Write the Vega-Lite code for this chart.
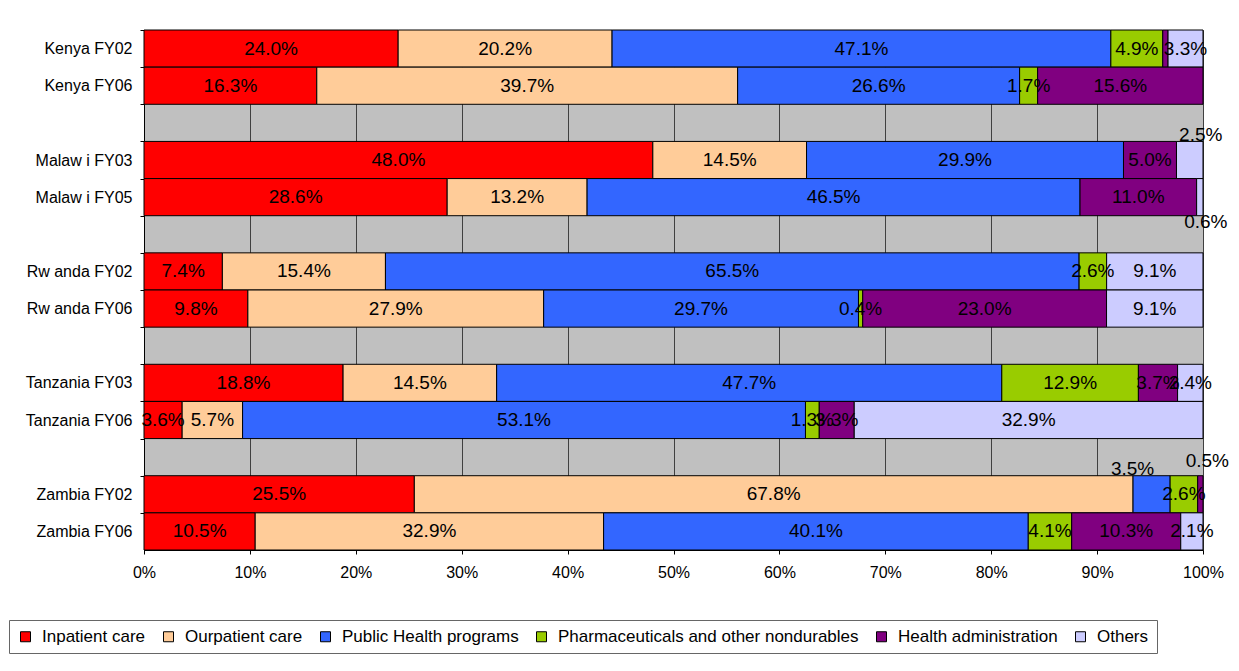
{
  "$schema": "https://vega.github.io/schema/vega-lite/v6.json",
  "autosize": {"type": "none"},
  "padding": {"left": 144, "top": 30, "right": 36, "bottom": 121},
  "width": 1059,
  "height": 520,
  "background": "white",
  "config": {
    "font": "Liberation Sans",
    "view": {"fill": "#C0C0C0", "stroke": "#808080", "strokeWidth": 1}
  },
  "data": {
    "values": [
      {"country": "Kenya FY02", "category": "Inpatient care", "share": 0.240},
      {"country": "Kenya FY02", "category": "Ourpatient care", "share": 0.202},
      {"country": "Kenya FY02", "category": "Public Health programs", "share": 0.471},
      {"country": "Kenya FY02", "category": "Pharmaceuticals and other nondurables", "share": 0.049},
      {"country": "Kenya FY02", "category": "Health administration", "share": 0.005},
      {"country": "Kenya FY02", "category": "Others", "share": 0.033},
      {"country": "Kenya FY06", "category": "Inpatient care", "share": 0.163},
      {"country": "Kenya FY06", "category": "Ourpatient care", "share": 0.397},
      {"country": "Kenya FY06", "category": "Public Health programs", "share": 0.266},
      {"country": "Kenya FY06", "category": "Pharmaceuticals and other nondurables", "share": 0.017},
      {"country": "Kenya FY06", "category": "Health administration", "share": 0.156},
      {"country": "Malaw i FY03", "category": "Inpatient care", "share": 0.480},
      {"country": "Malaw i FY03", "category": "Ourpatient care", "share": 0.145},
      {"country": "Malaw i FY03", "category": "Public Health programs", "share": 0.299},
      {"country": "Malaw i FY03", "category": "Health administration", "share": 0.050},
      {"country": "Malaw i FY03", "category": "Others", "share": 0.025},
      {"country": "Malaw i FY05", "category": "Inpatient care", "share": 0.286},
      {"country": "Malaw i FY05", "category": "Ourpatient care", "share": 0.132},
      {"country": "Malaw i FY05", "category": "Public Health programs", "share": 0.465},
      {"country": "Malaw i FY05", "category": "Health administration", "share": 0.110},
      {"country": "Malaw i FY05", "category": "Others", "share": 0.006},
      {"country": "Rw anda FY02", "category": "Inpatient care", "share": 0.074},
      {"country": "Rw anda FY02", "category": "Ourpatient care", "share": 0.154},
      {"country": "Rw anda FY02", "category": "Public Health programs", "share": 0.655},
      {"country": "Rw anda FY02", "category": "Pharmaceuticals and other nondurables", "share": 0.026},
      {"country": "Rw anda FY02", "category": "Others", "share": 0.091},
      {"country": "Rw anda FY06", "category": "Inpatient care", "share": 0.098},
      {"country": "Rw anda FY06", "category": "Ourpatient care", "share": 0.279},
      {"country": "Rw anda FY06", "category": "Public Health programs", "share": 0.297},
      {"country": "Rw anda FY06", "category": "Pharmaceuticals and other nondurables", "share": 0.004},
      {"country": "Rw anda FY06", "category": "Health administration", "share": 0.230},
      {"country": "Rw anda FY06", "category": "Others", "share": 0.091},
      {"country": "Tanzania FY03", "category": "Inpatient care", "share": 0.188},
      {"country": "Tanzania FY03", "category": "Ourpatient care", "share": 0.145},
      {"country": "Tanzania FY03", "category": "Public Health programs", "share": 0.477},
      {"country": "Tanzania FY03", "category": "Pharmaceuticals and other nondurables", "share": 0.129},
      {"country": "Tanzania FY03", "category": "Health administration", "share": 0.037},
      {"country": "Tanzania FY03", "category": "Others", "share": 0.024},
      {"country": "Tanzania FY06", "category": "Inpatient care", "share": 0.036},
      {"country": "Tanzania FY06", "category": "Ourpatient care", "share": 0.057},
      {"country": "Tanzania FY06", "category": "Public Health programs", "share": 0.531},
      {"country": "Tanzania FY06", "category": "Pharmaceuticals and other nondurables", "share": 0.013},
      {"country": "Tanzania FY06", "category": "Health administration", "share": 0.033},
      {"country": "Tanzania FY06", "category": "Others", "share": 0.329},
      {"country": "Zambia FY02", "category": "Inpatient care", "share": 0.255},
      {"country": "Zambia FY02", "category": "Ourpatient care", "share": 0.678},
      {"country": "Zambia FY02", "category": "Public Health programs", "share": 0.035},
      {"country": "Zambia FY02", "category": "Pharmaceuticals and other nondurables", "share": 0.026},
      {"country": "Zambia FY02", "category": "Health administration", "share": 0.005},
      {"country": "Zambia FY06", "category": "Inpatient care", "share": 0.105},
      {"country": "Zambia FY06", "category": "Ourpatient care", "share": 0.329},
      {"country": "Zambia FY06", "category": "Public Health programs", "share": 0.401},
      {"country": "Zambia FY06", "category": "Pharmaceuticals and other nondurables", "share": 0.041},
      {"country": "Zambia FY06", "category": "Health administration", "share": 0.103},
      {"country": "Zambia FY06", "category": "Others", "share": 0.021}
    ]
  },
  "transform": [
    {"window": [{"op": "row_number", "as": "rank"}], "groupby": ["country"]}
  ],
  "encoding": {
    "y": {
      "field": "country",
      "type": "nominal",
      "scale": {
        "domain": ["Kenya FY02", "Kenya FY06", "gap1", "Malaw i FY03", "Malaw i FY05", "gap2", "Rw anda FY02", "Rw anda FY06", "gap3", "Tanzania FY03", "Tanzania FY06", "gap4", "Zambia FY02", "Zambia FY06"],
        "paddingInner": 0,
        "paddingOuter": 0
      },
      "axis": {
        "title": null,
        "tickSize": 4,
        "tickColor": "black",
        "tickOffset": -18.57,
        "labelOffset": 18.57,
        "domainColor": "black",
        "labelFontSize": 16,
        "labelColor": "black",
        "labelPadding": 8,
        "grid": false,
        "labelExpr": "indexof(datum.value, 'gap') == 0 ? '' : datum.label"
      }
    },
    "order": {"field": "rank", "type": "quantitative"}
  },
  "layer": [
    {
      "mark": {"type": "bar", "stroke": "black", "strokeWidth": 1},
      "encoding": {
        "x": {
          "field": "share",
          "type": "quantitative",
          "stack": "normalize",
          "scale": {"domain": [0, 1], "nice": false},
          "axis": {
            "title": null,
            "values": [0, 0.1, 0.2, 0.3, 0.4, 0.5, 0.6, 0.7, 0.8, 0.9, 1],
            "format": ".0%",
            "labelFontSize": 16,
            "labelColor": "black",
            "labelPadding": 10,
            "labelFlush": false,
            "tickSize": 4,
            "tickColor": "black",
            "domainColor": "black",
            "grid": true,
            "gridColor": "#404040",
            "gridWidth": 1
          }
        },
        "color": {
          "field": "category",
          "type": "nominal",
          "scale": {
            "domain": ["Inpatient care", "Ourpatient care", "Public Health programs", "Pharmaceuticals and other nondurables", "Health administration", "Others"],
            "range": ["#FF0000", "#FFCC99", "#3366FF", "#99CC00", "#800080", "#CCCCFF"]
          },
          "legend": {
            "title": null,
            "orient": "none",
            "legendX": -135,
            "legendY": 590,
            "direction": "horizontal",
            "symbolType": "square",
            "symbolSize": 100,
            "symbolStrokeColor": "black",
            "symbolStrokeWidth": 1,
            "labelFontSize": 17,
            "labelColor": "black",
            "labelOffset": 8,
            "labelLimit": 500,
            "columnPadding": 14,
            "padding": 8,
            "strokeColor": "#666666",
            "fillColor": "white"
          }
        }
      }
    },
    {
      "mark": {"type": "text", "fontSize": 19, "color": "black", "align": "center", "baseline": "middle"},
      "encoding": {
        "x": {"field": "share", "type": "quantitative", "stack": "normalize", "bandPosition": 0.5},
        "detail": {"field": "category", "type": "nominal"},
        "text": {
          "condition": {"test": "(datum.country == 'Kenya FY02' && datum.category == 'Health administration') || (datum.category == 'Others' && (datum.country == 'Malaw i FY03' || datum.country == 'Malaw i FY05')) || (datum.country == 'Zambia FY02' && (datum.category == 'Public Health programs' || datum.category == 'Health administration'))", "value": ""},
          "field": "share",
          "type": "quantitative",
          "format": ".1%"
        }
      }
    },
    {
      "mark": {"type": "text", "fontSize": 19, "color": "black", "align": "center", "baseline": "middle", "dx": 11, "dy": -25},
      "encoding": {
        "x": {"field": "share", "type": "quantitative", "stack": "normalize", "bandPosition": 0.5},
        "detail": {"field": "category", "type": "nominal"},
        "text": {
          "condition": {"test": "!(datum.country == 'Malaw i FY03' && datum.category == 'Others')", "value": ""},
          "field": "share",
          "type": "quantitative",
          "format": ".1%"
        }
      }
    },
    {
      "mark": {"type": "text", "fontSize": 19, "color": "black", "align": "center", "baseline": "middle", "dx": 6, "dy": 25},
      "encoding": {
        "x": {"field": "share", "type": "quantitative", "stack": "normalize", "bandPosition": 0.5},
        "detail": {"field": "category", "type": "nominal"},
        "text": {
          "condition": {"test": "!(datum.country == 'Malaw i FY05' && datum.category == 'Others')", "value": ""},
          "field": "share",
          "type": "quantitative",
          "format": ".1%"
        }
      }
    },
    {
      "mark": {"type": "text", "fontSize": 19, "color": "black", "align": "center", "baseline": "middle", "dx": -19, "dy": -25},
      "encoding": {
        "x": {"field": "share", "type": "quantitative", "stack": "normalize", "bandPosition": 0.5},
        "detail": {"field": "category", "type": "nominal"},
        "text": {
          "condition": {"test": "!(datum.country == 'Zambia FY02' && datum.category == 'Public Health programs')", "value": ""},
          "field": "share",
          "type": "quantitative",
          "format": ".1%"
        }
      }
    },
    {
      "mark": {"type": "text", "fontSize": 19, "color": "black", "align": "center", "baseline": "middle", "dx": 7, "dy": -33},
      "encoding": {
        "x": {"field": "share", "type": "quantitative", "stack": "normalize", "bandPosition": 0.5},
        "detail": {"field": "category", "type": "nominal"},
        "text": {
          "condition": {"test": "!(datum.country == 'Zambia FY02' && datum.category == 'Health administration')", "value": ""},
          "field": "share",
          "type": "quantitative",
          "format": ".1%"
        }
      }
    }
  ]
}
